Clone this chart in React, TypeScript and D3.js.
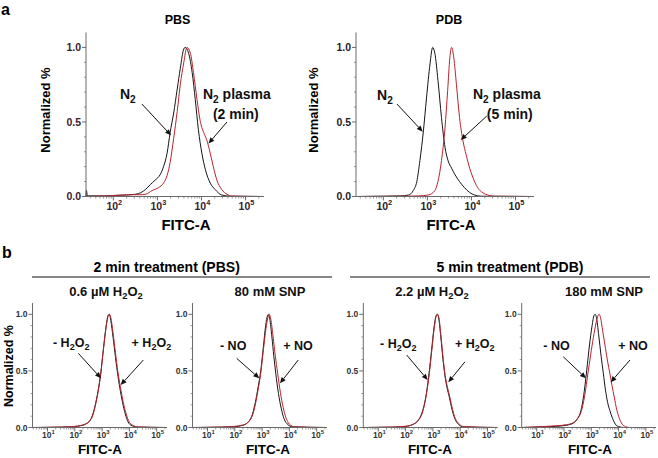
import React from "react";
import * as d3 from "d3";

type Pt = [number, number];

// ---- Data: [log10(FITC-A), normalized value] ----
const PBS_N2: Pt[] = [[1.38,0],[1.39,0.04],[1.41,0.004],[1.8,0.004],[2.1,0.008],[2.3,0.01],[2.5,0.015],[2.65,0.03],[2.73,0.047],[2.84,0.08],[2.95,0.11],[3.07,0.15],[3.14,0.2],[3.22,0.29],[3.29,0.43],[3.37,0.56],[3.45,0.72],[3.52,0.86],[3.6,0.99],[3.63,1.0],[3.71,0.96],[3.79,0.83],[3.86,0.65],[3.93,0.45],[4.01,0.29],[4.09,0.18],[4.2,0.09],[4.31,0.047],[4.46,0.01],[4.65,0.002],[5.42,0]];
const PBS_PLASMA: Pt[] = [[1.38,0],[1.8,0.004],[2.1,0.008],[2.4,0.012],[2.6,0.012],[2.73,0.015],[2.88,0.04],[3.03,0.06],[3.14,0.09],[3.22,0.14],[3.29,0.23],[3.37,0.39],[3.45,0.57],[3.52,0.75],[3.6,0.9],[3.67,1.0],[3.75,0.96],[3.82,0.83],[3.9,0.65],[3.97,0.51],[4.05,0.43],[4.12,0.38],[4.2,0.29],[4.27,0.2],[4.35,0.11],[4.46,0.047],[4.58,0.015],[4.69,0.003],[5.42,0]];
const PDB_N2: Pt[] = [[1.38,0],[2.0,0.002],[2.4,0.004],[2.57,0.01],[2.68,0.04],[2.76,0.1],[2.83,0.24],[2.91,0.44],[2.98,0.66],[3.06,0.89],[3.12,1.0],[3.17,0.96],[3.24,0.78],[3.32,0.53],[3.4,0.33],[3.47,0.24],[3.55,0.19],[3.62,0.15],[3.73,0.1],[3.84,0.06],[3.96,0.027],[4.07,0.01],[4.22,0.002],[5.42,0]];
const PDB_PLASMA: Pt[] = [[1.38,0],[2.4,0.002],[2.8,0.004],[3.02,0.01],[3.17,0.04],[3.24,0.1],[3.32,0.24],[3.4,0.46],[3.46,0.71],[3.51,0.93],[3.55,1.0],[3.6,0.93],[3.66,0.75],[3.73,0.53],[3.81,0.37],[3.88,0.28],[3.96,0.19],[4.03,0.13],[4.14,0.06],[4.26,0.025],[4.37,0.01],[4.52,0.002],[5.42,0]];

const H2O2_PBS_MINUS: Pt[] = [[0.45,0],[1.5,0.003],[2.0,0.008],[2.2,0.015],[2.4,0.03],[2.55,0.06],[2.65,0.11],[2.75,0.2],[2.85,0.32],[2.95,0.48],[3.05,0.7],[3.15,0.9],[3.22,0.99],[3.26,1.0],[3.3,0.97],[3.38,0.84],[3.47,0.66],[3.56,0.49],[3.65,0.35],[3.75,0.22],[3.85,0.12],[3.95,0.05],[4.1,0.015],[4.3,0.004],[5.36,0]];
const H2O2_PBS_PLUS: Pt[] = [[0.45,0],[1.5,0.004],[2.0,0.01],[2.2,0.017],[2.4,0.032],[2.55,0.06],[2.65,0.1],[2.75,0.19],[2.85,0.31],[2.95,0.47],[3.05,0.69],[3.15,0.89],[3.22,0.985],[3.27,1.0],[3.32,0.97],[3.4,0.84],[3.49,0.66],[3.58,0.49],[3.67,0.36],[3.77,0.23],[3.87,0.13],[3.97,0.06],[4.12,0.02],[4.3,0.005],[5.36,0]];
const SNP80_MINUS: Pt[] = [[0.45,0],[1.5,0.003],[2.0,0.008],[2.3,0.02],[2.5,0.05],[2.65,0.12],[2.75,0.22],[2.85,0.35],[2.95,0.5],[3.05,0.72],[3.13,0.9],[3.2,0.99],[3.23,1.0],[3.28,0.96],[3.36,0.8],[3.43,0.63],[3.5,0.48],[3.6,0.3],[3.7,0.17],[3.8,0.08],[3.95,0.025],[4.1,0.006],[5.36,0]];
const SNP80_PLUS: Pt[] = [[0.45,0],[1.5,0.004],[2.0,0.01],[2.3,0.022],[2.5,0.05],[2.65,0.11],[2.75,0.2],[2.85,0.33],[2.95,0.48],[3.05,0.69],[3.14,0.87],[3.21,0.97],[3.26,1.0],[3.31,0.97],[3.39,0.83],[3.48,0.64],[3.57,0.48],[3.67,0.31],[3.77,0.18],[3.87,0.09],[4.0,0.03],[4.2,0.006],[5.36,0]];
const H2O2_PDB_MINUS: Pt[] = [[0.45,0],[1.5,0.003],[2.0,0.01],[2.25,0.025],[2.45,0.06],[2.6,0.13],[2.7,0.22],[2.78,0.33],[2.86,0.48],[2.95,0.68],[3.04,0.88],[3.12,0.99],[3.16,1.0],[3.21,0.97],[3.29,0.8],[3.37,0.6],[3.44,0.46],[3.52,0.35],[3.6,0.27],[3.7,0.16],[3.8,0.08],[3.95,0.025],[4.1,0.006],[5.36,0]];
const H2O2_PDB_PLUS: Pt[] = [[0.45,0],[1.5,0.004],[2.0,0.011],[2.25,0.026],[2.45,0.06],[2.6,0.12],[2.7,0.21],[2.78,0.32],[2.87,0.48],[2.96,0.68],[3.05,0.88],[3.13,0.99],[3.17,1.0],[3.22,0.97],[3.3,0.8],[3.38,0.6],[3.45,0.46],[3.53,0.36],[3.62,0.27],[3.72,0.16],[3.82,0.08],[3.97,0.03],[4.12,0.008],[5.36,0]];
const SNP180_MINUS: Pt[] = [[0.45,0],[1.2,0.005],[1.7,0.01],[2.1,0.02],[2.35,0.04],[2.5,0.08],[2.62,0.15],[2.72,0.28],[2.83,0.5],[2.93,0.72],[3.03,0.9],[3.1,0.99],[3.14,1.0],[3.19,0.97],[3.27,0.82],[3.36,0.63],[3.44,0.48],[3.52,0.33],[3.6,0.22],[3.68,0.15],[3.78,0.08],[3.88,0.03],[4.0,0.008],[4.2,0],[5.36,0]];
const SNP180_PLUS: Pt[] = [[0.45,0],[1.2,0.008],[1.7,0.015],[2.1,0.025],[2.35,0.045],[2.5,0.08],[2.63,0.14],[2.75,0.27],[2.89,0.5],[3.0,0.68],[3.1,0.83],[3.2,0.95],[3.26,0.995],[3.29,1.0],[3.34,0.97],[3.42,0.85],[3.52,0.7],[3.6,0.58],[3.68,0.48],[3.76,0.37],[3.84,0.27],[3.93,0.16],[4.03,0.08],[4.13,0.03],[4.25,0.008],[4.4,0],[5.36,0]];

const Y_TICKS = [0, 0.5, 1.0];
const Y_TICK_LABELS = ["0.0", "0.5", "1.0"];
const TOP_DECADES = [2, 3, 4, 5];
const BOTTOM_DECADES = [1, 2, 3, 4, 5];

type Part = { t: string; sub?: boolean };
type Ann = { parts: Part[]; at: Pt };
type Arrow = { from: Pt; to: Pt };

const FONT = "'Liberation Sans', Arial, Helvetica, sans-serif";
const RED = "#b8232d";
const BLACK = "#151515";

function RichText({ x, y, parts, size, anchor = "start", fill = "#111" }: { x: number; y: number; parts: Part[]; size: number; anchor?: string; fill?: string }) {
  const shift = size * 0.25;
  let cur = 0;
  return (
    <text x={x} y={y} fontSize={size} fontFamily={FONT} fontWeight="bold" textAnchor={anchor} fill={fill}>
      {parts.map((p, i) => {
        const target = p.sub ? shift : 0;
        const dy = target - cur;
        cur = target;
        return (
          <tspan key={i} dy={dy} fontSize={p.sub ? size * 0.72 : size}>
            {p.t}
          </tspan>
        );
      })}
    </text>
  );
}

type PanelProps = {
  x0: number; width: number; yBase: number; yTop: number; domain: [number, number];
  decades: number[]; black: Pt[]; red: Pt[]; tickSize: number; tickColor: string;
  anns: Ann[]; arrows: Arrow[]; annSize: number; xLabelDy: number;
};

function Panel(p: PanelProps) {
  const x = d3.scaleLinear().domain(p.domain).range([p.x0, p.x0 + p.width]);
  const y = d3.scaleLinear().domain([0, 1.1]).range([p.yBase, p.yTop]);
  const line = d3.line<Pt>().x((d) => x(d[0])).y((d) => y(d[1])).curve(d3.curveMonotoneX);
  const minor: number[] = [];
  for (let d = Math.floor(p.domain[0]); d <= Math.ceil(p.domain[1]); d++) {
    for (let k = 2; k <= 9; k++) {
      const v = d + Math.log10(k);
      if (v >= p.domain[0] && v <= p.domain[1]) minor.push(v);
    }
  }
  const yMinor = d3.range(1, 11).map((i) => i / 10).filter((v) => v !== 0.5 && v !== 1.0);
  const axisColor = "#6a6a6a";
  return (
    <g>
      <path d={line(p.black) || ""} fill="none" stroke={BLACK} strokeWidth={1} />
      <path d={line(p.red) || ""} fill="none" stroke={RED} strokeWidth={1} />
      <line x1={p.x0} x2={p.x0} y1={p.yTop} y2={p.yBase} stroke={axisColor} strokeWidth={1} />
      {Y_TICKS.map((t) => (
        <line key={"yt" + t} x1={p.x0 - 4} x2={p.x0} y1={y(t)} y2={y(t)} stroke={axisColor} />
      ))}
      {yMinor.map((t) => (
        <line key={"ym" + t} x1={p.x0 - 2} x2={p.x0} y1={y(t)} y2={y(t)} stroke={axisColor} strokeWidth={0.7} />
      ))}
      {Y_TICKS.map((t, i) => (
        <text key={"yl" + t} x={p.x0 - 5} y={y(t) + p.tickSize * 0.36} textAnchor="end" fontSize={p.tickSize} fontFamily={FONT} fontWeight="bold" fill={p.tickColor}>
          {Y_TICK_LABELS[i]}
        </text>
      ))}
      <line x1={p.x0} x2={p.x0 + p.width} y1={p.yBase} y2={p.yBase} stroke={axisColor} strokeWidth={1} />
      {minor.map((v) => (
        <line key={"xm" + v} x1={x(v)} x2={x(v)} y1={p.yBase} y2={p.yBase + 2} stroke={axisColor} strokeWidth={0.7} />
      ))}
      {p.decades.map((d) => (
        <line key={"xt" + d} x1={x(d)} x2={x(d)} y1={p.yBase} y2={p.yBase + 4} stroke={axisColor} />
      ))}
      {p.decades.map((d) => (
        <text key={"xl" + d} x={x(d) + 1} y={p.yBase + p.xLabelDy} textAnchor="middle" fontSize={p.tickSize} fontFamily={FONT} fontWeight="bold" fill={p.tickColor}>
          <tspan>10</tspan>
          <tspan dy={-p.tickSize * 0.4} fontSize={p.tickSize * 0.7}>{String(d)}</tspan>
        </text>
      ))}
      {p.anns.map((a, i) => (
        <RichText key={"a" + i} x={x(a.at[0])} y={y(a.at[1])} parts={a.parts} size={p.annSize} />
      ))}
      {p.arrows.map((a, i) => {
        const x1 = x(a.from[0]), y1 = y(a.from[1]), x2 = x(a.to[0]), y2 = y(a.to[1]);
        const ang = Math.atan2(y2 - y1, x2 - x1);
        const L = 6, W = 2.6;
        const bx = x2 - L * Math.cos(ang), by = y2 - L * Math.sin(ang);
        const px = -Math.sin(ang) * W, py = Math.cos(ang) * W;
        return (
          <g key={"ar" + i}>
            <line x1={x1} y1={y1} x2={bx} y2={by} stroke="#111" strokeWidth={1} />
            <polygon points={`${x2},${y2} ${bx + px},${by + py} ${bx - px},${by - py}`} fill="#111" />
          </g>
        );
      })}
    </g>
  );
}

const N2: Part[] = [{ t: "N" }, { t: "2", sub: true }];
const N2P: Part[] = [{ t: "N" }, { t: "2", sub: true }, { t: " plasma" }];
const MH: Part[] = [{ t: "- H" }, { t: "2", sub: true }, { t: "O" }, { t: "2", sub: true }];
const PH: Part[] = [{ t: "+ H" }, { t: "2", sub: true }, { t: "O" }, { t: "2", sub: true }];

export default function App() {
  const topY = { yBase: 196.5, yTop: 32.5 };
  const botY = { yBase: 427.5, yTop: 303 };
  const topDom: [number, number] = [1.38, 5.42];
  const botDom: [number, number] = [0.45, 5.36];
  return (
    <svg width={658} height={458} style={{ position: "absolute", left: 0, top: 0, background: "#fff" }}>
      <rect x={0} y={0} width={658} height={458} fill="#fff" />
      <text x={1} y={15} fontSize={16} fontFamily={FONT} fontWeight="bold">a</text>
      <text x={177.5} y={24} fontSize={12.5} fontFamily={FONT} fontWeight="bold" textAnchor="middle">PBS</text>
      <text x={449} y={24} fontSize={12.5} fontFamily={FONT} fontWeight="bold" textAnchor="middle">PDB</text>
      <text transform="translate(49.5,110) rotate(-90)" fontSize={13} fontFamily={FONT} fontWeight="bold" textAnchor="middle">Normalized %</text>
      <text transform="translate(317.5,110) rotate(-90)" fontSize={13} fontFamily={FONT} fontWeight="bold" textAnchor="middle">Normalized %</text>
      <text x={186} y={230} fontSize={15} fontFamily={FONT} fontWeight="bold" textAnchor="middle">FITC-A</text>
      <text x={451} y={230} fontSize={15} fontFamily={FONT} fontWeight="bold" textAnchor="middle">FITC-A</text>

      <Panel x0={86} width={178} {...topY} domain={topDom} decades={TOP_DECADES} black={PBS_N2} red={PBS_PLASMA} tickSize={10.5} tickColor="#3a2130" annSize={14} xLabelDy={13}
        anns={[{ parts: N2, at: [2.15, 0.652] }, { parts: N2P, at: [4.035, 0.652] }, { parts: [{ t: "(2 min)" }], at: [4.26, 0.52] }]}
        arrows={[{ from: [2.65, 0.62], to: [3.31, 0.41] }, { from: [4.58, 0.5], to: [4.16, 0.355] }]} />
      <Panel x0={356} width={178} {...topY} domain={topDom} decades={TOP_DECADES} black={PDB_N2} red={PDB_PLASMA} tickSize={10.5} tickColor="#2a2028" annSize={14} xLabelDy={13}
        anns={[{ parts: N2, at: [1.857, 0.645] }, { parts: N2P, at: [4.035, 0.652] }, { parts: [{ t: "(5 min)" }], at: [4.35, 0.52] }]}
        arrows={[{ from: [2.31, 0.62], to: [2.894, 0.435] }, { from: [4.35, 0.54], to: [3.756, 0.379] }]} />

      <text x={2} y={258} fontSize={16} fontFamily={FONT} fontWeight="bold">b</text>
      <text x={166.7} y={272} fontSize={14} fontFamily={FONT} fontWeight="bold" textAnchor="middle">2 min treatment (PBS)</text>
      <text x={510} y={272} fontSize={14} fontFamily={FONT} fontWeight="bold" textAnchor="middle">5 min treatment (PDB)</text>
      <line x1={32} x2={332} y1={277} y2={277} stroke="#111" strokeWidth={1.2} />
      <line x1={350} x2={650} y1={277} y2={277} stroke="#111" strokeWidth={1.2} />
      <RichText x={106} y={296} size={13} anchor="middle" parts={[{ t: "0.6 µM H" }, { t: "2", sub: true }, { t: "O" }, { t: "2", sub: true }]} />
      <RichText x={270} y={296} size={13} anchor="middle" parts={[{ t: "80 mM SNP" }]} />
      <RichText x={432} y={296} size={13} anchor="middle" parts={[{ t: "2.2 µM H" }, { t: "2", sub: true }, { t: "O" }, { t: "2", sub: true }]} />
      <RichText x={604} y={296} size={13} anchor="middle" parts={[{ t: "180 mM SNP" }]} />
      <text transform="translate(12.5,366) rotate(-90)" fontSize={12.5} fontFamily={FONT} fontWeight="bold" textAnchor="middle">Normalized %</text>
      {[100, 268, 430, 590].map((cx) => (
        <text key={cx} x={cx} y={454} fontSize={13.5} fontFamily={FONT} fontWeight="bold" textAnchor="middle">FITC-A</text>
      ))}

      <Panel x0={32.5} width={134} {...botY} domain={botDom} decades={BOTTOM_DECADES} black={H2O2_PBS_MINUS} red={H2O2_PBS_PLUS} tickSize={8.5} tickColor="#333" annSize={12.5} xLabelDy={10}
        anns={[{ parts: MH, at: [1.2, 0.711] }, { parts: PH, at: [4.08, 0.711] }]}
        arrows={[{ from: [2.13, 0.655], to: [2.96, 0.435] }, { from: [4.51, 0.596], to: [3.68, 0.375] }]} />
      <Panel x0={192.5} width={134} {...botY} domain={botDom} decades={BOTTOM_DECADES} black={SNP80_MINUS} red={SNP80_PLUS} tickSize={8.5} tickColor="#333" annSize={12.5} xLabelDy={10}
        anns={[{ parts: [{ t: "- NO" }], at: [1.457, 0.685] }, { parts: [{ t: "+ NO" }], at: [3.776, 0.685] }]}
        arrows={[{ from: [2.069, 0.611], to: [2.897, 0.435] }, { from: [4.325, 0.596], to: [3.655, 0.39] }]} />
      <Panel x0={363.3} width={134} {...botY} domain={botDom} decades={BOTTOM_DECADES} black={H2O2_PDB_MINUS} red={H2O2_PDB_PLUS} tickSize={8.5} tickColor="#333" annSize={12.5} xLabelDy={10}
        anns={[{ parts: MH, at: [1.062, 0.702] }, { parts: PH, at: [3.809, 0.702] }]}
        arrows={[{ from: [2.04, 0.64], to: [2.81, 0.42] }, { from: [4.175, 0.58], to: [3.564, 0.4] }]} />
      <Panel x0={521.7} width={134} {...botY} domain={botDom} decades={BOTTOM_DECADES} black={SNP180_MINUS} red={SNP180_PLUS} tickSize={8.5} tickColor="#333" annSize={12.5} xLabelDy={10}
        anns={[{ parts: [{ t: "- NO" }], at: [1.241, 0.685] }, { parts: [{ t: "+ NO" }], at: [3.988, 0.685] }]}
        arrows={[{ from: [1.974, 0.625], to: [2.805, 0.435] }, { from: [4.417, 0.596], to: [3.71, 0.4] }]} />
    </svg>
  );
}
